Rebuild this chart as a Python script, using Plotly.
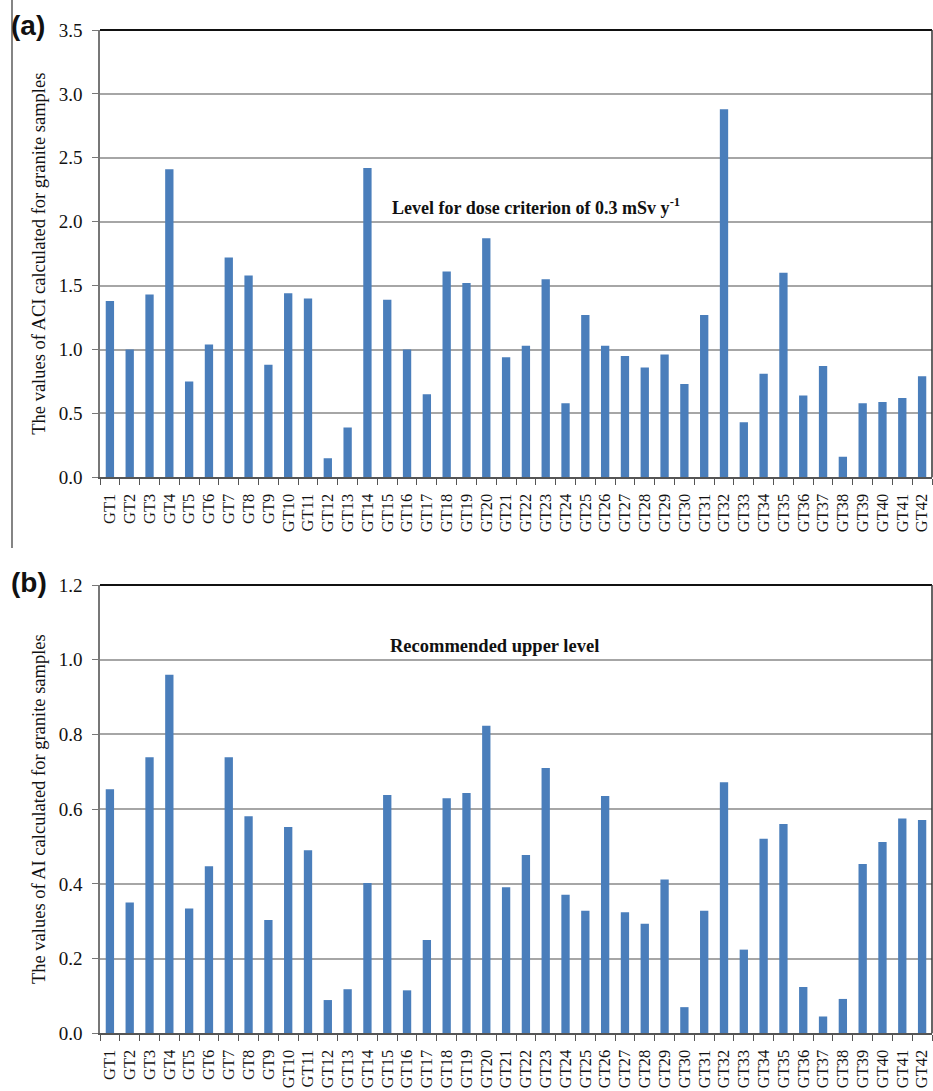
import plotly.graph_objects as go

samples = [f"GT{i}" for i in range(1, 43)]

aci_values = [1.38, 1.00, 1.43, 2.41, 0.75, 1.04, 1.72, 1.58, 0.88, 1.44,
              1.40, 0.15, 0.39, 2.42, 1.39, 1.00, 0.65, 1.61, 1.52, 1.87,
              0.94, 1.03, 1.55, 0.58, 1.27, 1.03, 0.95, 0.86, 0.96, 0.73,
              1.27, 2.88, 0.43, 0.81, 1.60, 0.64, 0.87, 0.16, 0.58, 0.59,
              0.62, 0.79]

ai_values = [0.653, 0.350, 0.739, 0.960, 0.334, 0.447, 0.739, 0.581, 0.303, 0.552,
             0.490, 0.089, 0.118, 0.402, 0.638, 0.115, 0.250, 0.629, 0.643, 0.823,
             0.391, 0.477, 0.710, 0.371, 0.328, 0.635, 0.324, 0.293, 0.412, 0.070,
             0.328, 0.672, 0.224, 0.521, 0.560, 0.124, 0.045, 0.092, 0.453, 0.512,
             0.575, 0.571]

aci_ticks = [0.0, 0.5, 1.0, 1.5, 2.0, 2.5, 3.0, 3.5]
ai_ticks = [0.0, 0.2, 0.4, 0.6, 0.8, 1.0, 1.2]

bar_color = "#4A7EBB"
serif = "Liberation Serif, Times New Roman, serif"

fig = go.Figure()
fig.add_trace(go.Bar(x=samples, y=aci_values, marker=dict(color=bar_color, line=dict(width=0)),
                     xaxis="x", yaxis="y", showlegend=False))
fig.add_trace(go.Bar(x=samples, y=ai_values, marker=dict(color=bar_color, line=dict(width=0)),
                     xaxis="x2", yaxis="y2", showlegend=False))

H = 1091.0
top_dom = [1 - 477.3 / H, 1 - 30.0 / H]
bot_dom = [1 - 1033.3 / H, 1 - 585.0 / H]

xcommon = dict(type="category", tickangle=-90, tickfont=dict(family=serif, size=16.5, color="#111"),
               tickmode="array", tickvals=samples, ticktext=samples, ticklabelstandoff=8,
               showline=True, linecolor="#555", linewidth=1.5, ticks="outside", tickson="boundaries",
               ticklen=6, tickcolor="#555", tickwidth=1.2, showgrid=False, automargin=False,
               domain=[0, 1], range=[-0.5, 41.5])
ycommon = dict(tickfont=dict(family=serif, size=19, color="#111"), showline=True, linecolor="#777",
               linewidth=1.5, ticks="outside", ticklen=6, tickcolor="#777", tickwidth=1.2,
               ticklabelstandoff=6,
               showgrid=True, gridcolor="#A6A6A6", gridwidth=1.5, zeroline=False, automargin=False,
               title_font=dict(family=serif, size=18.5, color="#111"), title_standoff=8)

fig.update_layout(
    width=933, height=1091,
    margin=dict(l=100, r=1, t=0, b=0),
    paper_bgcolor="white", plot_bgcolor="white",
    bargap=0.58,
    xaxis=dict(**xcommon, anchor="y"),
    xaxis2=dict(**xcommon, anchor="y2"),
    yaxis=dict(**ycommon, domain=top_dom, range=[0, 3.5], tickvals=aci_ticks,
               ticktext=[f"{v:.1f}" for v in aci_ticks],
               title_text="The values of ACI calculated for granite samples", anchor="x"),
    yaxis2=dict(**ycommon, domain=bot_dom, range=[0, 1.2], tickvals=ai_ticks,
                ticktext=[f"{v:.1f}" for v in ai_ticks],
                title_text="The values of AI calculated for granite samples", anchor="x2"),
)

# frame lines (top and right)
for xr, yr in (("x domain", "y domain"), ("x2 domain", "y2 domain")):
    fig.add_shape(type="line", xref=xr, yref=yr, x0=0, x1=1, y0=1, y1=1,
                  line=dict(color="#111", width=2))
    fig.add_shape(type="line", xref=xr, yref=yr, x0=1, x1=1, y0=0, y1=1,
                  line=dict(color="#333", width=1.5))

# left panel edge line
fig.add_shape(type="line", xref="paper", yref="paper", x0=(12 - 100) / 832, x1=(12 - 100) / 832,
              y0=1, y1=1 - 548 / H, line=dict(color="#333", width=1.2))

fig.add_annotation(xref="paper", yref="paper", x=(9 - 100) / 832, y=1 - 8 / H, xanchor="left",
                   yanchor="top", text="<b>(a)</b>", showarrow=False,
                   font=dict(family="Liberation Sans, Arial, sans-serif", size=28, color="#111"))
fig.add_annotation(xref="paper", yref="paper", x=(9 - 100) / 832, y=1 - 565 / H, xanchor="left",
                   yanchor="top", text="<b>(b)</b>", showarrow=False,
                   font=dict(family="Liberation Sans, Arial, sans-serif", size=28, color="#111"))

fig.add_annotation(xref="x domain", yref="y", x=(390 - 100) / 832, y=2.12, xanchor="left",
                   yanchor="middle", showarrow=False,
                   text="<b>Level for dose criterion of 0.3 mSv y<sup>-1</sup></b>",
                   font=dict(family=serif, size=18, color="#111"))
fig.add_annotation(xref="x2 domain", yref="y2", x=(388 - 100) / 832, y=1.036, xanchor="left",
                   yanchor="middle", showarrow=False,
                   text="<b>Recommended upper level</b>",
                   font=dict(family=serif, size=18.5, color="#111"))

fig.write_html("out.html", config={"displayModeBar": False},
               post_script="document.body.style.margin='0';document.body.style.overflow='hidden';")
